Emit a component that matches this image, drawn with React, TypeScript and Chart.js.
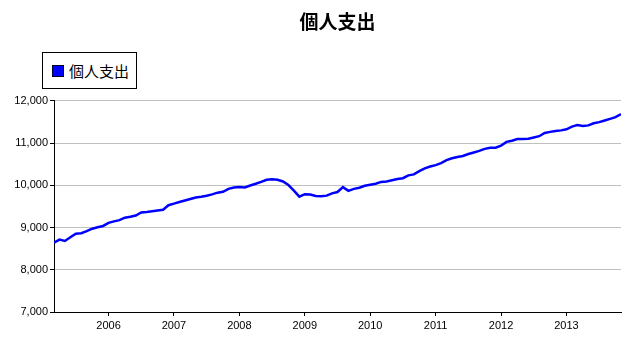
import React, { useEffect, useRef } from "react";
import { Chart, registerables } from "chart.js";

Chart.register(...registerables);

const TITLE = "個人支出";
const SERIES_NAME = "個人支出";
const START_YEAR = 2005;
const START_MONTH = 3;

// monthly values, Mar 2005 .. Nov 2013
const spending = [
  8643, 8715, 8682, 8770, 8855, 8865, 8915, 8972, 9008, 9037,
  9110, 9145, 9175, 9233, 9256, 9285, 9355, 9368, 9385, 9402,
  9420, 9528, 9565, 9603, 9640, 9675, 9712, 9730, 9752, 9785,
  9825, 9845, 9915, 9948, 9960, 9947, 9995, 10035, 10080, 10130,
  10145, 10130, 10090, 10005, 9875, 9731, 9790, 9782, 9745, 9740,
  9755, 9808, 9840, 9955, 9869, 9915, 9943, 9990, 10012, 10035,
  10080, 10092, 10120, 10148, 10167, 10235, 10258, 10335, 10400, 10445,
  10478, 10525, 10595, 10640, 10670, 10695, 10740, 10776, 10815, 10862,
  10889, 10889, 10940, 11028, 11056, 11096, 11098, 11100, 11130, 11162,
  11240, 11264, 11284, 11300, 11325, 11390, 11425, 11405, 11418, 11468,
  11495, 11535, 11573, 11614, 11683,
];

const yearTicks = [2006, 2007, 2008, 2009, 2010, 2011, 2012, 2013];
const valueTicks = [7000, 8000, 9000, 10000, 11000, 12000];

const LINE_COLOR = "#0000ff";
const AXIS_FONT = "'Liberation Sans', Arial, sans-serif";
const CJK_FONT = "'Noto Sans CJK JP', 'Noto Sans CJK SC', sans-serif";

export default function App() {
  const canvasRef = useRef<HTMLCanvasElement | null>(null);

  useEffect(() => {
    if (!canvasRef.current) return;
    const points = spending.map((v, i) => ({
      x: START_YEAR + (START_MONTH - 1 + i) / 12,
      y: v,
    }));
    const chart = new Chart(canvasRef.current, {
      type: "line",
      data: {
        datasets: [
          {
            label: SERIES_NAME,
            data: points,
            borderColor: LINE_COLOR,
            backgroundColor: LINE_COLOR,
            borderWidth: 2.5,
            pointRadius: 0,
            tension: 0,
            fill: false,
          },
        ],
      },
      options: {
        animation: false,
        responsive: false,
        events: [],
        layout: { padding: { left: 0, right: 4, top: 0, bottom: 0 } },
        plugins: {
          legend: { display: false },
          tooltip: { enabled: false },
          title: {
            display: true,
            text: TITLE,
            fullSize: false,
            color: "#000",
            font: { family: CJK_FONT, size: 19, weight: "bold" },
            padding: { top: 2, bottom: 68 },
          },
        },
        scales: {
          x: {
            type: "linear",
            min: points[0].x,
            max: points[points.length - 1].x,
            afterBuildTicks: (s: any) => {
              s.ticks = yearTicks.map((v) => ({ value: v }));
            },
            afterFit: (s: any) => {
              s.height = 34;
            },
            ticks: {
              callback: (v: any) => String(v),
              color: "#000",
              font: { family: AXIS_FONT, size: 11 },
              padding: 3,
              maxRotation: 0,
              autoSkip: false,
            },
            grid: {
              drawOnChartArea: false,
              tickLength: 4,
              tickColor: "#000",
            },
            border: { color: "#000", width: 1 },
          },
          y: {
            min: 7000,
            max: 12000,
            afterBuildTicks: (s: any) => {
              s.ticks = valueTicks.map((v) => ({ value: v }));
            },
            afterFit: (s: any) => {
              s.width = 46;
            },
            ticks: {
              callback: (v: any) => Number(v).toLocaleString("en-US"),
              color: "#000",
              font: { family: AXIS_FONT, size: 11 },
              padding: 2,
            },
            grid: {
              color: "#c0c0c0",
              tickLength: 4,
              tickColor: "#000",
              lineWidth: 1,
            },
            border: { color: "#000", width: 1 },
          },
        },
      },
    });
    return () => chart.destroy();
  }, []);

  return (
    <div style={{ position: "relative", width: 617, height: 338 }}>
      <canvas
        ref={canvasRef}
        width={617}
        height={338}
        style={{ display: "block" }}
      />
      <div
        style={{
          position: "absolute",
          left: 34,
          top: 44,
          width: 95,
          height: 37,
          boxSizing: "border-box",
          border: "1px solid #000",
          background: "#fff",
          display: "flex",
          alignItems: "center",
          paddingLeft: 9,
          fontFamily: CJK_FONT,
          fontSize: 15,
          color: "#000",
        }}
      >
        <span
          style={{
            display: "inline-block",
            width: 10,
            height: 10,
            background: LINE_COLOR,
            border: "1px solid #000033",
            marginRight: 5,
          }}
        />
        <span>{SERIES_NAME}</span>
      </div>
    </div>
  );
}
